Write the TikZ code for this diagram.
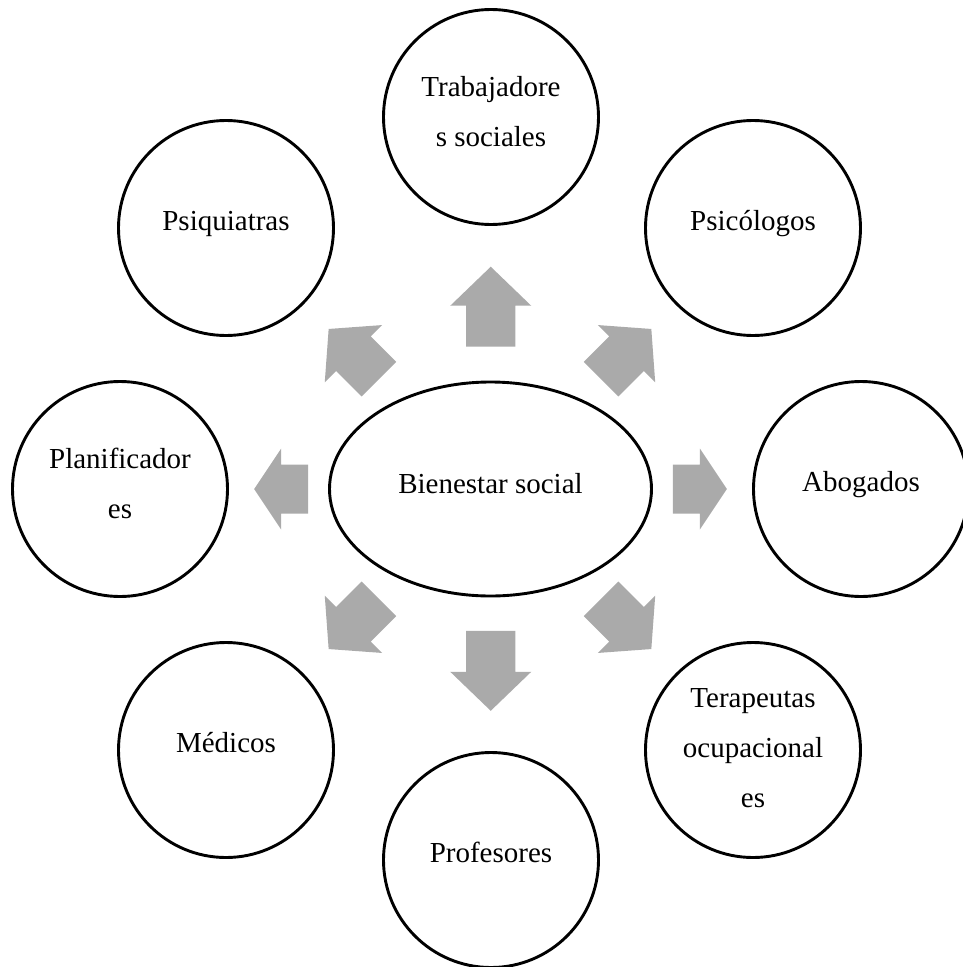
\documentclass[tikz,border=0pt]{standalone}
\usepackage{fontspec}
\setmainfont{Liberation Serif}
\usetikzlibrary{shapes.geometric,calc}
\definecolor{arrowgray}{HTML}{AAAAAA}

\tikzset{
  unit/.style={circle, draw=black, line width=2.9pt, minimum size=215pt, inner sep=0pt},
  hub/.style={ellipse, draw=black, line width=2.9pt, minimum width=322pt, minimum height=214pt, inner sep=0pt},
  caption/.style={font=\fontsize{29}{50}\selectfont, align=center, inner sep=0pt},
  % block arrow pointing along +x, centred on the origin: total length #1, head length #2
  pics/blockarrow/.style n args={2}{code={
    \fill[arrowgray] ({-#1/2},-24.5) -- ({#1/2-#2},-24.5) -- ({#1/2-#2},-40.5)
      -- ({#1/2},0) -- ({#1/2-#2},40.5) -- ({#1/2-#2},24.5) -- ({-#1/2},24.5) -- cycle;
  }},
}

\begin{document}
\begin{tikzpicture}[x=1pt, y=-1pt]
  \fill[white] (0,0) rectangle (963,967);
  \useasboundingbox (0,0) rectangle (963,967);

  % hub and the eight professions around it
  \node[hub]  (bien) at (490.5,489) {};
  \node[unit] (trab) at (491,117) {};
  \node[unit] (psic) at (753,228) {};
  \node[unit] (abog) at (861,489) {};
  \node[unit] (tera) at (753,750) {};
  \node[unit] (prof) at (491,860) {};
  \node[unit] (medi) at (226,750) {};
  \node[unit] (plan) at (120,489) {};
  \node[unit] (psiq) at (226,228) {};

  % captions
  \node[caption, anchor=base, yshift=-4pt]   (tbien) at (bien.center) {Bienestar social};
  \node[caption, yshift=5pt]                 (ttrab) at (trab.center) {Trabajadore\\s sociales};
  \node[caption, anchor=base, yshift=-2.5pt] (tpsic) at (psic.center) {Psicólogos};
  \node[caption, anchor=base, yshift=-2.5pt] (tabog) at (abog.center) {Abogados};
  \node[caption, yshift=2pt]                 (ttera) at (tera.center) {Terapeutas\\ocupacional\\es};
  \node[caption, anchor=base, yshift=-2.5pt] (tprof) at (prof.center) {Profesores};
  \node[caption, anchor=base, yshift=-2.5pt] (tmedi) at (medi.center) {Médicos};
  \node[caption, yshift=6pt]                 (tplan) at (plan.center) {Planificador\\es};
  \node[caption, anchor=base, yshift=-2.5pt] (tpsiq) at (psiq.center) {Psiquiatras};

  % block arrows from the hub towards each profession
  \path ($(bien.center)!0.49!(trab.center)$)  pic[rotate=90]  {blockarrow={80}{39}};
  \path ($(bien.center)!0.49!(prof.center)$)  pic[rotate=270] {blockarrow={80}{39}};
  \path ($(bien.center)!0.565!(abog.center)$) pic[rotate=0]   {blockarrow={54}{27}};
  \path ($(bien.center)!0.565!(plan.center)$) pic[rotate=180] {blockarrow={54}{27}};
  \path ($(bien.center)!0.517!(psic.center)$) pic[rotate=45]  {blockarrow={71}{35}};
  \path ($(bien.center)!0.517!(psiq.center)$) pic[rotate=135] {blockarrow={71}{35}};
  \path ($(bien.center)!0.517!(medi.center)$) pic[rotate=225] {blockarrow={71}{35}};
  \path ($(bien.center)!0.517!(tera.center)$) pic[rotate=315] {blockarrow={71}{35}};
\end{tikzpicture}
\end{document}
